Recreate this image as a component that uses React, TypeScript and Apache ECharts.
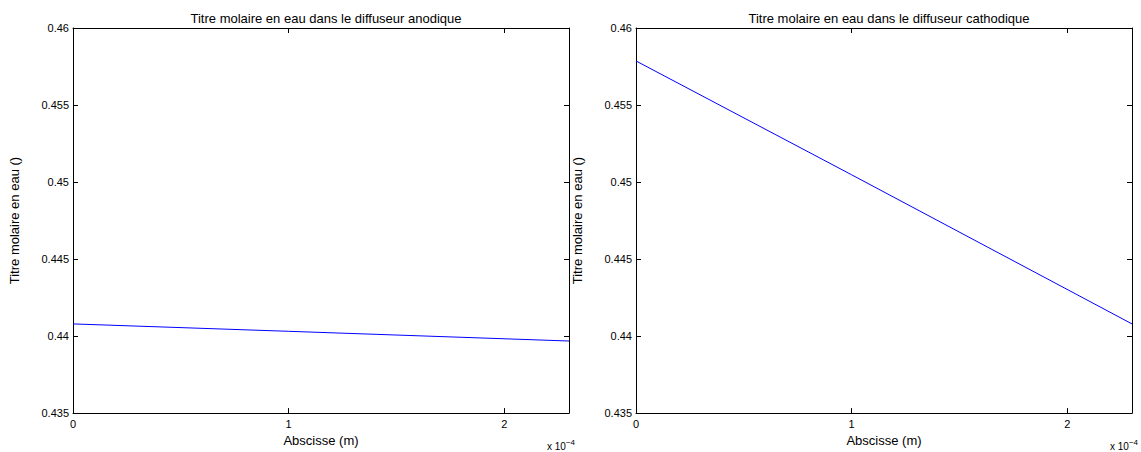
import React, { useEffect, useRef } from "react";
import * as echarts from "echarts";

// x values in units of 1e-4 m
const xAnode = [0, 1, 2.3];
const yAnode = [0.44079, 0.44031, 0.43968];
const xCathode = [0, 1, 2.3];
const yCathode = [0.45786, 0.45047, 0.44079];

const titles = [
  "Titre molaire en eau dans le diffuseur anodique",
  "Titre molaire en eau dans le diffuseur cathodique",
];
const yName = "Titre molaire en eau ()";
const xName = "Abscisse (m)";

const FONT = "'Liberation Sans', Arial, Helvetica, sans-serif";
const grids = [
  { left: 73, top: 28, width: 496, height: 390 },
  { left: 636, top: 28, width: 496, height: 390 },
];

export default function App() {
  const ref = useRef<HTMLDivElement>(null);
  useEffect(() => {
    const chart = echarts.init(ref.current!, null, { renderer: "svg" });
    const xAxes: any[] = [];
    const yAxes: any[] = [];
    const series: any[] = [];
    const titleArr: any[] = [];
    const graphics: any[] = [];
    const datasets = [
      [xAnode, yAnode],
      [xCathode, yCathode],
    ];
    grids.forEach((g, i) => {
      const baseX = {
        type: "value",
        gridIndex: i,
        min: 0,
        max: 2.3,
        interval: 1,
        axisLine: { show: true, onZero: false, lineStyle: { color: "#000", width: 1 } },
        axisTick: { show: true, inside: true, length: 5, lineStyle: { color: "#000" } },
        splitLine: { show: false },
      };
      xAxes.push({
        ...baseX,
        position: "bottom",
        name: xName,
        nameLocation: "middle",
        nameGap: 17,
        nameTextStyle: { fontFamily: FONT, fontSize: 13, color: "#000" },
        axisLabel: {
          show: true,
          margin: 5,
          fontFamily: FONT,
          fontSize: 11,
          color: "#000",
          showMaxLabel: false,
          formatter: (v: number) => (Math.abs(v - Math.round(v)) < 1e-9 ? String(Math.round(v)) : ""),
        },
      });
      xAxes.push({
        ...baseX,
        position: "top",
        axisLabel: { show: false },
      });
      const baseY = {
        type: "value",
        gridIndex: i,
        min: 0.435,
        max: 0.46,
        interval: 0.005,
        axisLine: { show: true, onZero: false, lineStyle: { color: "#000", width: 1 } },
        axisTick: { show: true, inside: true, length: 5, lineStyle: { color: "#000" } },
        splitLine: { show: false },
      };
      yAxes.push({
        ...baseY,
        position: "left",
        name: yName,
        nameLocation: "middle",
        nameGap: 52,
        nameTextStyle: { fontFamily: FONT, fontSize: 13, color: "#000" },
        axisLabel: {
          show: true,
          margin: 4,
          fontFamily: FONT,
          fontSize: 11,
          color: "#000",
          formatter: (v: number) => String(+v.toFixed(3)),
        },
      });
      yAxes.push({
        ...baseY,
        position: "right",
        axisLabel: { show: false },
      });
      series.push({
        type: "line",
        xAxisIndex: i * 2,
        yAxisIndex: i * 2,
        data: datasets[i][0].map((x, k) => [x, datasets[i][1][k]]),
        showSymbol: false,
        lineStyle: { color: "#0000ff", width: 1 },
      });
      titleArr.push({
        text: titles[i],
        left: g.left + g.width / 2,
        top: 7,
        textAlign: "center",
        textStyle: { fontFamily: FONT, fontSize: 13, fontWeight: "normal", color: "#000" },
      });
      graphics.push({
        type: "text",
        left: g.left + g.width - 22,
        top: 438,
        style: {
          text: "x 10{sup|\u22124}",
          font: `10px ${FONT}`,
          fill: "#000",
          rich: { sup: { fontSize: 8, verticalAlign: "top", padding: [0, 0, 8, 0], fontFamily: FONT } },
        },
      });
    });
    chart.setOption({
      animation: false,
      backgroundColor: "#fff",
      title: titleArr,
      grid: grids.map((g) => ({ ...g, containLabel: false })),
      xAxis: xAxes,
      yAxis: yAxes,
      series,
      graphic: graphics,
    });
    return () => chart.dispose();
  }, []);
  return (
    <div
      ref={ref}
      style={{ position: "fixed", left: 0, top: 0, width: 1141, height: 452, background: "#fff" }}
    />
  );
}
